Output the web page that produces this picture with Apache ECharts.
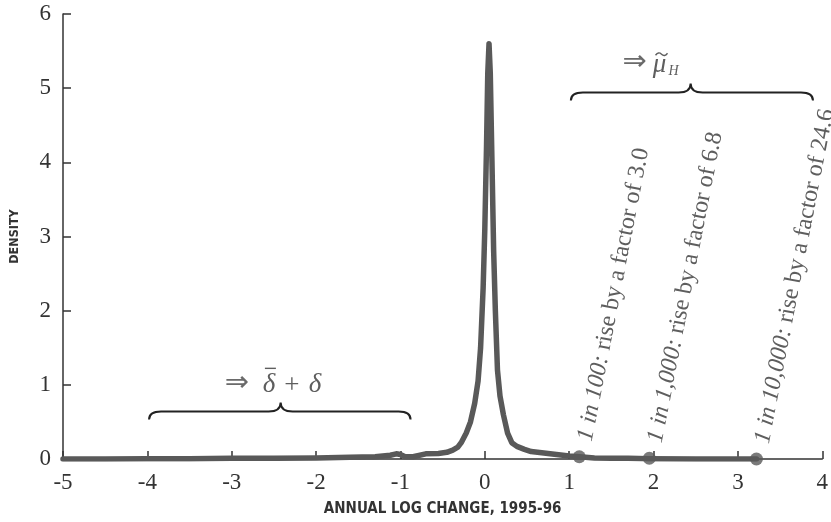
<!DOCTYPE html>
<html>
<head>
<meta charset="utf-8">
<script src="https://cdn.jsdelivr.net/npm/echarts@6/dist/echarts.min.js"></script>
<style>
  html, body { margin: 0; padding: 0; background: #fff; }
  #chart { width: 831px; height: 522px; }
</style>
</head>
<body>
<div id="chart"></div>
<script>
/* ---------- data ---------- */
const densityX = [-5, -4.5, -4, -3.5, -3, -2.5, -2, -1.6, -1.3, -1.12, -1.05, -1.0, -0.95, -0.85, -0.7, -0.55,
  -0.45, -0.38, -0.32, -0.28, -0.22, -0.17, -0.12, -0.08, -0.05, -0.02, 0.0, 0.02, 0.035, 0.05, 0.065,
  0.085, 0.105, 0.125, 0.15, 0.18, 0.22, 0.27, 0.32, 0.38, 0.47, 0.55, 0.7, 0.85, 1.0, 1.12, 1.3, 1.5, 1.7,
  1.95, 2.5, 3.0, 3.22];
const densityY = [0.0, 0.0, 0.005, 0.005, 0.01, 0.01, 0.015, 0.025, 0.03, 0.05, 0.07, 0.06, 0.035, 0.03, 0.07, 0.075,
  0.09, 0.12, 0.16, 0.22, 0.35, 0.5, 0.75, 1.05, 1.5, 2.3, 3.1, 4.2, 5.2, 5.6, 5.2,
  4.0, 2.8, 2.0, 1.2, 0.85, 0.6, 0.35, 0.22, 0.17, 0.13, 0.1, 0.08, 0.06, 0.04, 0.03, 0.015, 0.01, 0.01,
  0.005, 0.0, 0.0, 0.0];

const markerX = [1.12, 1.95, 3.22];
const markerY = [0.03, 0.01, 0.0];
const markerOdds = ['1 in 100:', '1 in 1,000:', '1 in 10,000:'];
const markerFactor = ['3.0', '6.8', '24.6'];

// brace: [left x, right x, cusp x, y of bar]
const braceSpans = [[-3.98, -0.88, -2.42, 0.64], [1.02, 3.89, 2.44, 4.94]];
// text above each brace: [x, y]
const braceTextPos = [[-2.5, 1.02], [2.0, 5.35]];

const xTicks = { min: -5, max: 4, step: 1 };
const yTicks = { min: 0, max: 6, step: 1 };

/* ---------- styles ---------- */
const INK = '#333';
const NOTE = '#5e5e5e';
const CURVE = '#595959';
const SERIF = 'Liberation Serif';
const NARROW = '"DejaVu Sans Condensed", "Liberation Sans", sans-serif';

const chart = echarts.init(document.getElementById('chart'));

// one piece of serif text at a pixel offset from an anchor
const piece = (x, y, text, opt) => ({
  type: 'text', x: x, y: y,
  style: Object.assign({
    text: text, fill: NOTE, fontFamily: SERIF, fontSize: 27,
    align: 'center', verticalAlign: 'middle'
  }, opt || {})
});
const stroke = (d) => ({
  type: 'path', shape: { pathData: d },
  style: { fill: 'none', stroke: NOTE, lineWidth: 1.4 }
});
const ARROW = { fontFamily: 'DejaVu Sans', fontSize: 29, fill: '#6a6a6a' };

// the two little formulas above the braces
const formulaPieces = [
  p => [
    piece(p[0] - 37, p[1], '⇒', ARROW),
    piece(p[0] - 5, p[1] + 2, 'δ', { fontStyle: 'italic' }),
    stroke(`M${p[0] - 9},${p[1] - 15} L${p[0] + 2},${p[1] - 15}`),
    piece(p[0] + 18, p[1] + 3, '+'),
    piece(p[0] + 41, p[1] + 2, 'δ', { fontStyle: 'italic' })
  ],
  p => [
    piece(p[0] - 19, p[1], '⇒', ARROW),
    piece(p[0] + 6, p[1] + 3, 'μ', { fontStyle: 'italic' }),
    stroke(`M${p[0] + 2},${p[1] - 7} Q${p[0] + 5},${p[1] - 11} ${p[0] + 8},${p[1] - 8} T${p[0] + 14},${p[1] - 9}`),
    piece(p[0] + 20, p[1] + 9, 'H', { fontStyle: 'italic', fontSize: 14 })
  ]
];

const option = {
  animation: false,
  backgroundColor: '#fff',
  grid: { left: 60, right: 3, top: 14, bottom: 59 },
  xAxis: {
    type: 'value', min: xTicks.min, max: xTicks.max, interval: xTicks.step,
    name: 'ANNUAL LOG CHANGE, 1995-96', nameLocation: 'middle', nameGap: 43,
    nameTextStyle: { fontFamily: NARROW, fontWeight: 'bold', fontSize: 15, color: INK },
    axisLine: { onZero: false, lineStyle: { color: INK, width: 1.5 } },
    axisTick: { inside: true, length: 8, lineStyle: { color: INK, width: 1.5 } },
    axisLabel: { margin: 12, fontFamily: SERIF, fontSize: 23, color: INK },
    splitLine: { show: false }
  },
  yAxis: {
    type: 'value', min: yTicks.min, max: yTicks.max, interval: yTicks.step,
    name: 'DENSITY', nameLocation: 'middle', nameGap: 42, nameRotate: 90,
    nameTextStyle: { fontFamily: NARROW, fontWeight: 'bold', fontSize: 12.5, color: INK },
    axisLine: { show: true, onZero: false, lineStyle: { color: INK, width: 1.5 } },
    axisTick: { show: true, inside: true, length: 8, lineStyle: { color: INK, width: 1.5 } },
    axisLabel: { margin: 12, fontFamily: SERIF, fontSize: 23, color: INK },
    splitLine: { show: false }
  },
  series: [
    {
      type: 'line',
      data: densityX.map((x, i) => [x, densityY[i]]),
      showSymbol: false,
      lineStyle: { color: CURVE, width: 5.5, join: 'round', cap: 'round' },
      z: 3
    },
    {
      type: 'scatter',
      data: markerX.map((x, i) => [x, markerY[i]]),
      symbolSize: 13,
      itemStyle: { color: CURVE },
      z: 4
    },
    {
      // rotated notes above the markers
      type: 'custom',
      data: markerX.map((x, i) => [x, markerY[i]]),
      renderItem: (params, api) => {
        const p = api.coord([api.value(0), api.value(1)]);
        const i = params.dataIndex;
        return {
          type: 'text',
          x: p[0] + 6,
          y: p[1] - 16,
          rotation: 79 * Math.PI / 180,
          style: {
            text: '{i|' + markerOdds[i] + '} rise by a factor of ' + markerFactor[i],
            fill: NOTE, fontFamily: SERIF, fontSize: 24,
            rich: { i: { fill: NOTE, fontFamily: SERIF, fontSize: 24, fontStyle: 'italic' } },
            align: 'left',
            verticalAlign: 'middle'
          }
        };
      },
      z: 5
    },
    {
      // curly braces
      type: 'custom',
      data: braceSpans,
      renderItem: (params, api) => {
        const l = api.coord([api.value(0), api.value(3)]);
        const r = api.coord([api.value(1), api.value(3)]);
        const c = api.coord([api.value(2), api.value(3)]);
        const y = l[1], yb = y + 8, yt = y - 9, rad = 12;
        const d = `M${l[0]},${yb} Q${l[0]},${y} ${l[0] + rad},${y} L${c[0] - rad},${y} ` +
          `Q${c[0]},${y} ${c[0]},${yt} Q${c[0]},${y} ${c[0] + rad},${y} ` +
          `L${r[0] - rad},${y} Q${r[0]},${y} ${r[0]},${yb}`;
        return {
          type: 'path',
          shape: { pathData: d },
          style: { fill: 'none', stroke: '#222', lineWidth: 2 }
        };
      },
      z: 5
    },
    {
      // formulas above braces
      type: 'custom',
      data: braceTextPos,
      renderItem: (params, api) => {
        const p = api.coord([api.value(0), api.value(1)]);
        return { type: 'group', children: formulaPieces[params.dataIndex](p) };
      },
      z: 5
    }
  ]
};

chart.setOption(option);
</script>
</body>
</html>
